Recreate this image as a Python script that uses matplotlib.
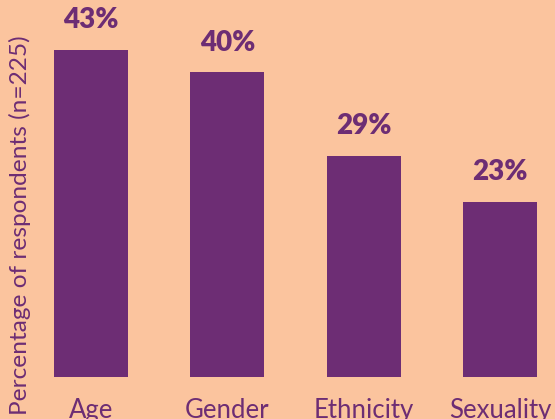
import matplotlib.pyplot as plt

# Data
categories = ["Age", "Gender", "Ethnicity", "Sexuality"]
values = [43, 40, 29, 23]
value_labels = ["43%", "40%", "29%", "23%"]

bg = "#FBC49E"
purple = "#6D2D74"

plt.rcParams['font.family'] = ['Lato', 'DejaVu Sans']

fig = plt.figure(figsize=(5.55, 4.19), dpi=100, facecolor=bg)
ax = fig.add_axes([40 / 555, 42 / 419, 515 / 555, 377 / 419])
ax.set_facecolor(bg)

x = range(len(categories))
bars = ax.bar(x, values, width=0.543, color=purple)

# percentage labels above the bars
for xi, v, lab in zip(x, values, value_labels):
    ax.annotate(lab, (xi, v), xytext=(0, 12), textcoords="offset points",
                ha="center", va="bottom", fontsize=20, fontweight="heavy",
                color=purple)

ax.set_xlim(-0.3736, 3.403)
ax.set_ylim(0, 49.5)
ax.set_xticks(list(x))
ax.set_xticklabels(categories, fontsize=18.5, color=purple)
ax.tick_params(axis="x", length=0, pad=15)
ax.set_yticks([])
for s in ax.spines.values():
    s.set_visible(False)

ax.set_ylabel("Percentage of respondents (n=225)", fontsize=17.6, color=purple)
ax.yaxis.set_label_coords(-9 / 515, 0.5 - 37 / 377)

fig.savefig("out.png", dpi=100, facecolor=bg)
